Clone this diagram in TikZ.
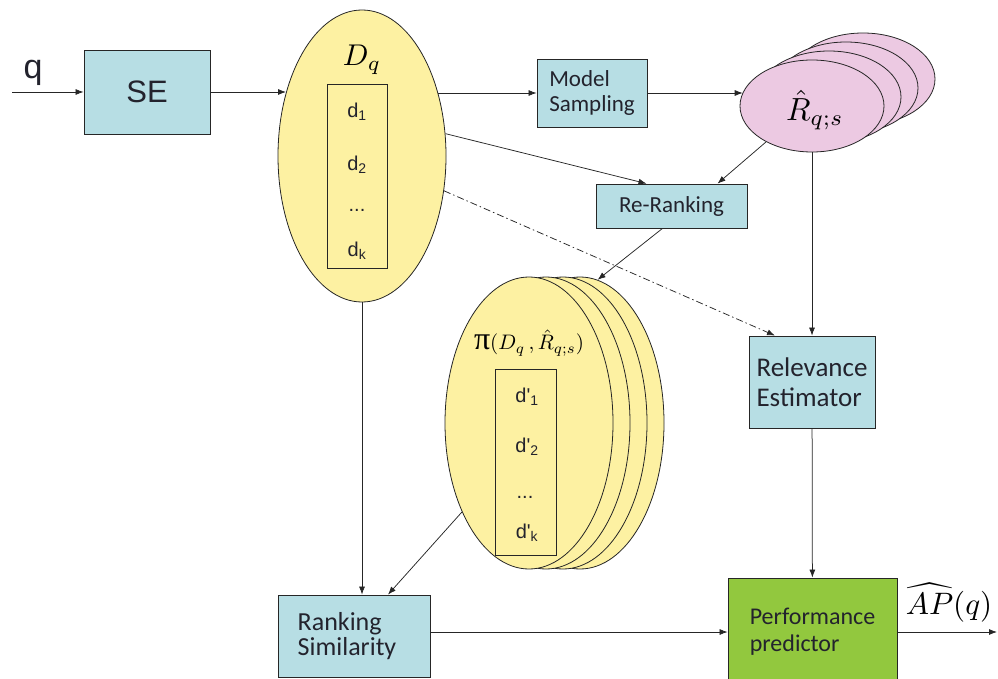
\documentclass[tikz,border=0pt]{standalone}
\usepackage{graphicx}
\usepackage{fontspec}
\setmainfont{Carlito}
\newfontfamily\arialf{Liberation Sans}
\newfontfamily\serf{Liberation Serif}
\usetikzlibrary{shapes.geometric,arrows.meta}
\definecolor{boxblue}{RGB}{183,222,228}
\definecolor{ellyellow}{RGB}{253,241,162}
\definecolor{ellpink}{RGB}{236,201,226}
\definecolor{ppgreen}{RGB}{146,200,62}
\definecolor{txt}{RGB}{35,35,45}
\begin{document}
\begin{tikzpicture}[x=1pt,y=-1pt,
  blk/.style={draw=black!85, line width=0.8pt, fill=boxblue, text=txt},
  ell/.style={ellipse, draw=black!85, line width=0.8pt, fill=ellyellow, inner sep=0pt},
  pell/.style={ellipse, draw=black!85, line width=0.8pt, fill=ellpink, inner sep=0pt, minimum width=144, minimum height=92},
  dtxt/.style={font=\arialf\fontsize{20}{20}\selectfont, text=txt},
  arr/.style={-{Latex[length=8pt,width=6pt]}, line width=0.75pt, draw=black!85},
  dashdot/.style={dash pattern=on 7pt off 3pt on 1.5pt off 3pt}
]
\useasboundingbox (0,0) rectangle (998,679);

% input
\coordinate (qin) at (12,92);
\node[font=\arialf\fontsize{34}{34}\selectfont, anchor=base, text=txt] (ql) at (33,79) {q};
\node[blk, minimum width=126, minimum height=84, font=\arialf\fontsize{31}{31}\selectfont] (SE) at (147,92) {SE};

% D_q ellipse
\node[ell, minimum width=168, minimum height=292] (Dq) at (362,156) {};
\node (Dql) at (362,60) {\scalebox{3}{$D_q$}};
\node[draw=black!85, line width=0.8pt, minimum width=60, minimum height=184, inner sep=0pt] (Dqbox) at (357,176) {};
\node[dtxt] (d1) at (357,112) {d\textsubscript{1}};
\node[dtxt] (d2) at (357,165) {d\textsubscript{2}};
\node[dtxt] (d3) at (357,210) {...};
\node[dtxt] (dk) at (357,251) {d\textsubscript{k}};

% Model sampling
\node[blk, minimum width=110, minimum height=68, inner sep=0pt, align=left,
      font=\fontsize{23}{25}\selectfont] (MS) at (592,93) {Model\\Sampling};

% R hat stack
\node[pell] (R3) at (863,79) {};
\node[pell] (R2) at (846,88) {};
\node[pell] (R1) at (829,97) {};
\node[pell] (R0) at (812,106) {};
\node (Rl) at (815,110) {\scalebox{3.2}{$\hat{R}_{q;s}$}};

% Re-ranking
\node[blk, minimum width=151, minimum height=44, inner sep=0pt, font=\fontsize{23}{25}\selectfont] (RR) at (671.5,206) {Re-Ranking};

% pi stack
\node[ell, minimum width=168, minimum height=292] (pi3) at (580,423) {};
\node[ell, minimum width=168, minimum height=292] (pi2) at (563,423) {};
\node[ell, minimum width=168, minimum height=292] (pi1) at (546,423) {};
\node[ell, minimum width=168, minimum height=292] (pi0) at (529,423) {};
\node (pil) at (529,343) {{\serf\fontsize{32}{32}\selectfont π}\scalebox{2.1}{$(D_q\,,\hat{R}_{q;s})$}};
\node[draw=black!85, line width=0.8pt, minimum width=61, minimum height=186, inner sep=0pt] (pibox) at (525.5,462) {};
\node[dtxt] (e1) at (527,397) {d'\textsubscript{1}};
\node[dtxt] (e2) at (527,447) {d'\textsubscript{2}};
\node[dtxt] (e3) at (525,497) {...};
\node[dtxt] (ek) at (527,533) {d'\textsubscript{k}};

% Relevance estimator
\node[blk, minimum width=126, minimum height=92, inner sep=0pt, align=left,
      font=\fontsize{27}{30}\selectfont] (RE) at (812,382) {Relevance\\Estimator};

% Ranking similarity
\node[blk, minimum width=152, minimum height=82, inner sep=0pt, align=left,
      font=\fontsize{26}{25}\selectfont] (RS) at (354,636) {Ranking\\Similarity\hspace*{14pt}};

% Performance predictor
\node[blk, fill=ppgreen, minimum width=169, minimum height=108, inner sep=0pt, align=left,
      font=\fontsize{24}{27}\selectfont] (PP) at (812.5,632) {Performance\\predictor};

\coordinate (out) at (997,632);
\node[inner sep=1pt] (APl) at (949,603) {\scalebox{3.1}{$\widehat{AP}(q)$}};

% connectors
\draw[arr] (qin) -- (SE);
\draw[arr] (SE) -- (SE -| Dq.140);
\draw[arr] (Dq.40 |- MS) -- (MS);
\draw[arr] (MS) -- (MS -| R0.169);
\draw[arr] (R0.218) -- ([xshift=46pt]RR.north);
\draw[arr] (Dq.15) -- ([xshift=-25pt]RR.north);
\draw[arr] ([xshift=-9pt]RR.south) -- (pi3.83);
\draw[arr, dashdot] (Dq.-23) -- ([xshift=-37pt]RE.north);
\draw[arr] (R0.south) -- (RE.north);
\draw[arr] (RE) -- (PP);
\draw[arr] (Dq.south) -- (Dq.south |- RS.north);
\draw[arr] (pi0.233) -- ([xshift=34pt]RS.north);
\draw[arr] (PP.west -| RS.east) -- (PP.west);
\draw[arr] (PP.east) -- (out);
\end{tikzpicture}
\end{document}
